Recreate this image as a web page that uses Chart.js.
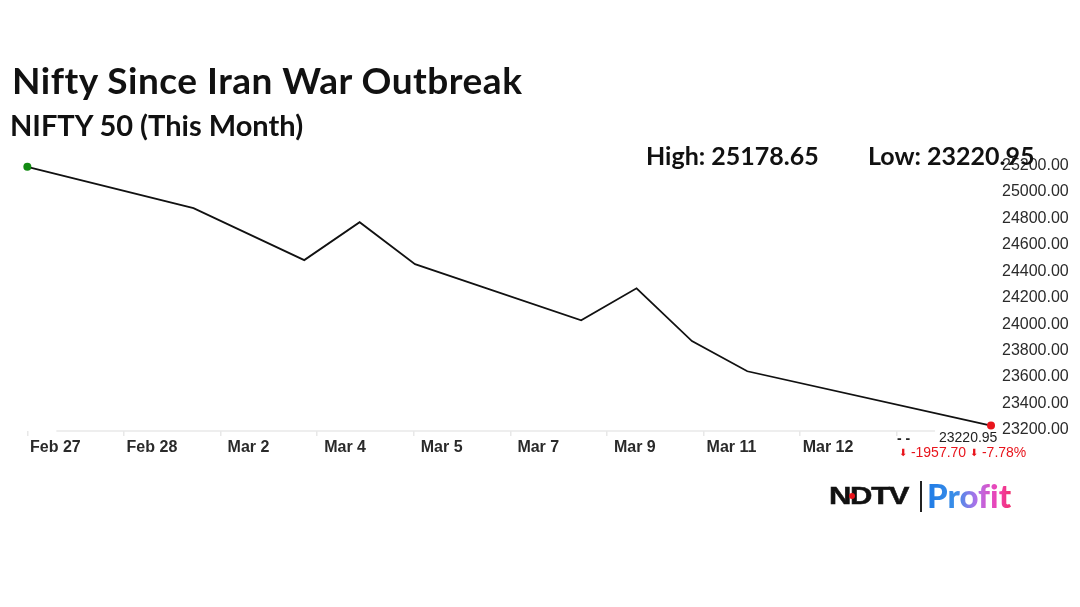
<!DOCTYPE html>
<html>
<head>
<meta charset="utf-8">
<title>Nifty Since Iran War Outbreak</title>
<script src="https://cdn.jsdelivr.net/npm/chart.js@4"></script>
<style>
  html, body { margin: 0; background: #fff; }
  #wrap { position: relative; width: 1080px; height: 607px; overflow: hidden; }
  #wrap canvas { position: absolute; left: 0; top: 0; }
  .txt { position: absolute; white-space: nowrap; line-height: 1; color: #111; }
  .head { font-family: Lato, "Noto Sans", sans-serif; font-weight: 700; }
  .quote { font-family: "Liberation Sans", Arial, sans-serif; }
  .arrow { font-size: 10px; vertical-align: 1px; }
</style>
</head>
<body>
<div id="wrap">
  <canvas id="chart" width="1080" height="607"></canvas>
  <div class="txt head" id="title" style="left:12px;top:61px;font-size:37px;letter-spacing:0.5px">Nifty Since Iran War Outbreak</div>
  <div class="txt head" id="subtitle" style="left:10px;top:110px;font-size:29px">NIFTY 50 (This Month)</div>
  <div class="txt head" id="high" style="left:646px;top:143px;font-size:25px">High: 25178.65</div>
  <div class="txt head" id="low" style="left:868px;top:143px;font-size:25px">Low: 23220.95</div>
  <div class="txt quote" id="dash" style="left:897px;top:431px;font-size:14px;font-weight:700;color:#222">- -</div>
  <div class="txt quote" id="last" style="left:935px;top:430px;padding:0 2px 0 4px;background:#fff;font-size:14px;color:#222">23220.95</div>
  <div class="txt quote" id="change" style="left:899px;top:445px;font-size:14px;color:#e8141c"><span class="arrow">⬇</span> -1957.70 <span class="arrow">⬇</span> -7.78%</div>
  <div class="txt" id="ndtv" style="left:829px;top:484px;font-family:'Liberation Sans',sans-serif;font-weight:700;font-size:24px;letter-spacing:-1px;color:#111;-webkit-text-stroke:0.5px #111;transform:scaleX(1.29);transform-origin:left">NDTV</div>
  <div style="position:absolute;left:849px;top:493px;width:6px;height:6px;border-radius:50%;background:#e8141c"></div>
  <div style="position:absolute;left:920px;top:481px;width:1.5px;height:31px;background:#222"></div>
  <div class="txt" id="profit" style="left:927px;top:479px;font-family:Lato,sans-serif;font-weight:900;font-size:33px;font-variant-ligatures:none;background:linear-gradient(90deg,#1e7be6 0%,#3d8fe8 35%,#b46fe8 60%,#f23fb0 85%,#f0306e 100%);-webkit-background-clip:text;background-clip:text;color:transparent">Profit</div>
</div>
<script>
// trading sessions since Feb 27 (x position along the time axis)
const sessions = [0, 3, 5, 6, 7, 10, 11, 12, 13, 17.4];
const closes = [25178.65, 24866, 24473, 24760, 24442, 24018, 24260, 23860, 23632, 23220.95];

const xTickValues = [0, 1.744, 3.488, 5.232, 6.976, 8.72, 10.464, 12.208, 13.952, 15.696];
const xTickLabels = ['Feb 27', 'Feb 28', 'Mar 2', 'Mar 4', 'Mar 5', 'Mar 7', 'Mar 9', 'Mar 11', 'Mar 12', ''];
const yTickValues = [23200, 23400, 23600, 23800, 24000, 24200, 24400, 24600, 24800, 25000, 25200];

const points = sessions.map((s, i) => ({ x: s, y: closes[i] }));
const lastIdx = points.length - 1;

// baseline has a gap at the start and stops under the price label
const baseline = {
  id: 'baseline',
  beforeDatasetsDraw(chart) {
    const { ctx, chartArea } = chart;
    ctx.save();
    ctx.strokeStyle = '#e8e8e8';
    ctx.lineWidth = 1.5;
    ctx.beginPath();
    ctx.moveTo(chartArea.left + 29, chartArea.bottom);
    ctx.lineTo(chartArea.right, chartArea.bottom);
    ctx.stroke();
    ctx.restore();
  },
};

new Chart(document.getElementById('chart'), {
  type: 'line',
  data: {
    datasets: [{
      data: points,
      borderColor: '#111',
      borderWidth: 1.8,
      tension: 0,
      clip: false,
      pointRadius: ctx => (ctx.dataIndex === 0 || ctx.dataIndex === lastIdx ? 4 : 0),
      pointBorderWidth: 0,
      pointBackgroundColor: ctx => (ctx.dataIndex === 0 ? '#128a12' : '#e8141c'),
    }],
  },
  options: {
    responsive: false,
    animation: false,
    layout: { padding: { left: 13, top: 164, right: 0, bottom: 0 } },
    plugins: { legend: { display: false }, tooltip: { enabled: false } },
    scales: {
      x: {
        type: 'linear',
        min: 0,
        max: 17.4,
        afterBuildTicks: axis => { axis.ticks = xTickValues.map(v => ({ value: v })); },
        afterFit: axis => { axis.height = 176; },
        border: { display: false },
        grid: { drawOnChartArea: false, color: '#e8e8e8', tickLength: 5, lineWidth: 1.5 },
        ticks: {
          callback: (v, i) => xTickLabels[i],
          align: 'center',
          labelOffset: 28,
          padding: 2,
          autoSkip: false,
          maxRotation: 0,
          color: '#2a2a2a',
          font: { family: '"Liberation Sans", Arial, sans-serif', size: 16, weight: 'bold' },
        },
      },
      y: {
        position: 'right',
        min: 23180,
        max: 25200,
        afterBuildTicks: axis => { axis.ticks = yTickValues.map(v => ({ value: v })); },
        afterFit: axis => { axis.width = 89; },
        border: { display: false },
        grid: { display: false, drawTicks: false },
        ticks: {
          callback: v => v.toFixed(2),
          labelOffset: 1.5,
          padding: 11,
          autoSkip: false,
          color: '#2a2a2a',
          font: { family: '"Liberation Sans", Arial, sans-serif', size: 16 },
        },
      },
    },
  },
  plugins: [baseline],
});
</script>
</body>
</html>
